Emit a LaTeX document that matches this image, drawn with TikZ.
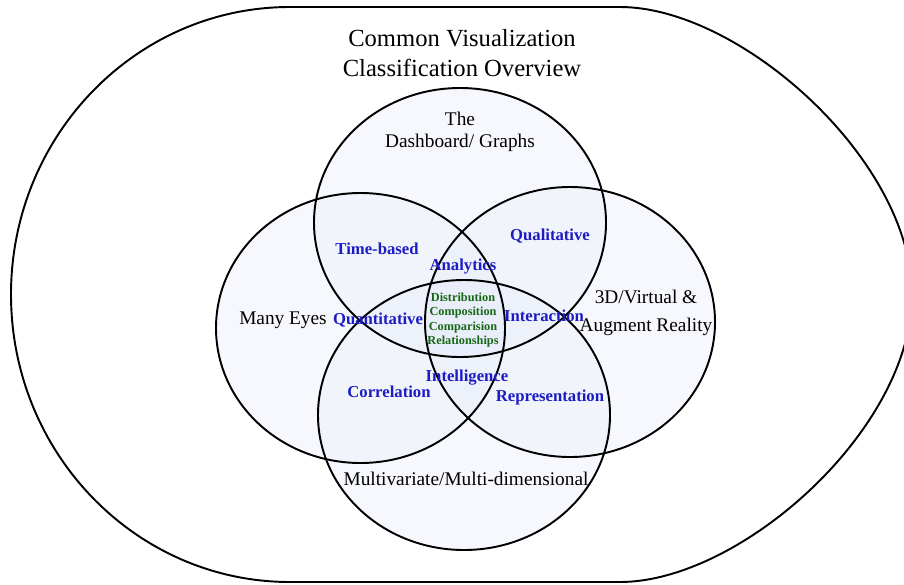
\documentclass[tikz,border=0pt]{standalone}
\usepackage{fontspec}
\setmainfont{Liberation Serif}
\definecolor{vennblue}{RGB}{228,233,248}
\definecolor{tagblue}{RGB}{28,28,196}
\definecolor{keygreen}{RGB}{22,104,22}

\begin{document}
\begin{tikzpicture}[
  vennfill/.style={fill=vennblue, fill opacity=0.3},
  vennline/.style={line width=1.1pt},
  bigtext/.style={font=\fontsize{11}{12.5}\selectfont, align=center},
  tagtext/.style={text=tagblue, font=\fontsize{9.5}{11}\selectfont\bfseries},
  keytext/.style={text=keygreen, font=\fontsize{7}{8.1}\selectfont\bfseries, align=center}]
\useasboundingbox (0,0) rectangle (18.080,11.680);
% outer frame
\draw[line width=1.1pt] (5.800,11.540) arc[start angle=90, end angle=270, x radius=5.580, y radius=5.750]
  -- (12.400,0.040) .. controls (14.800,0.040) and (18.240,3.080) .. (18.240,5.790)
  .. controls (18.240,8.480) and (14.800,11.540) .. (12.400,11.540) -- cycle;
% the four sets: fills first, outlines on top
\fill[vennfill] (9.200,7.230) ellipse [x radius=2.920, y radius=2.690];
\fill[vennfill] (7.210,5.120) ellipse [x radius=2.890, y radius=2.700];
\fill[vennfill] (11.400,5.240) ellipse [x radius=2.900, y radius=2.700];
\fill[vennfill] (9.280,3.380) ellipse [x radius=2.920, y radius=2.700];
\draw[vennline] (9.200,7.230) ellipse [x radius=2.920, y radius=2.690];
\draw[vennline] (7.210,5.120) ellipse [x radius=2.890, y radius=2.700];
\draw[vennline] (11.400,5.240) ellipse [x radius=2.900, y radius=2.700];
\draw[vennline] (9.280,3.380) ellipse [x radius=2.920, y radius=2.700];
% headings
\node[font=\fontsize{14}{17}\selectfont, align=center] (title) at (9.240,10.620) {Common Visualization\\Classification Overview};
\node[bigtext] (dashboard) at (9.200,9.040) {The\\Dashboard/ Graphs};
\node[bigtext] (manyeyes) at (5.660,5.280) {Many Eyes};
\node[bigtext, font=\fontsize{11}{16}\selectfont] (virtual) at (12.920,5.420) {3D/Virtual \&\\Augment Reality};
\node[bigtext] (multivar) at (9.320,2.100) {Multivariate/Multi-dimensional};
% overlap tags
\node[tagtext] (timebased) at (7.540,6.700) {Time-based};
\node[tagtext] (qualitative) at (11.000,6.960) {Qualitative};
\node[tagtext] (analytics) at (9.260,6.340) {Analytics};
\node[tagtext] (quantitative) at (7.560,5.280) {Quantitative};
\node[tagtext] (interaction) at (10.880,5.360) {Interaction};
\node[tagtext] (intelligence) at (9.340,4.120) {Intelligence};
\node[tagtext] (correlation) at (7.780,3.840) {Correlation};
\node[tagtext] (representation) at (11.000,3.740) {Representation};
% centre
\node[keytext] (core) at (9.260,5.280) {Distribution\\Composition\\Comparision\\Relationships};
\end{tikzpicture}
\end{document}
